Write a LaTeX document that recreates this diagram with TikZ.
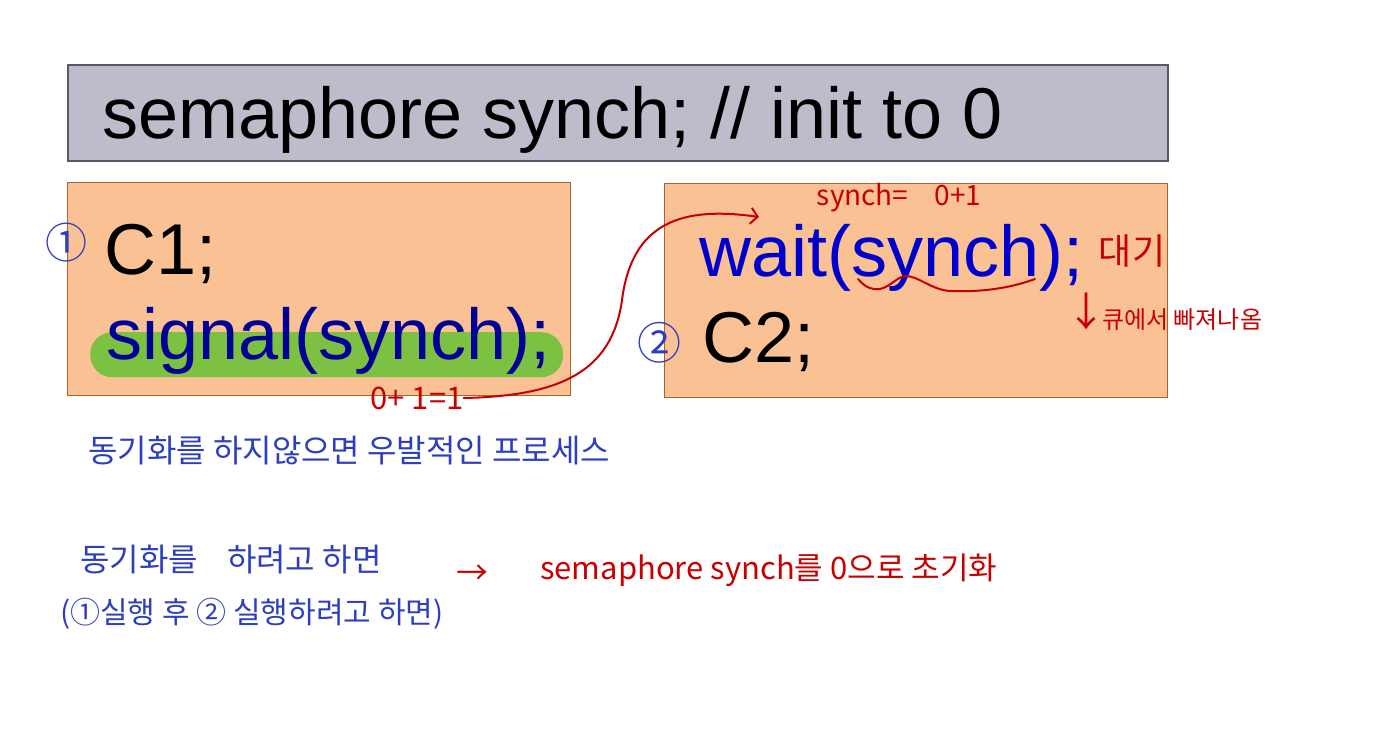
\documentclass[tikz,border=0pt]{standalone}
\usepackage{fontspec}
\setmainfont{Liberation Sans}
\newfontfamily\kr{Noto Sans CJK KR}
\usetikzlibrary{arrows.meta}
\definecolor{hdrfill}{RGB}{190,187,202}
\definecolor{hdrline}{RGB}{90,88,102}
\definecolor{boxfill}{RGB}{249,193,148}
\definecolor{boxline}{RGB}{165,100,44}
\definecolor{hlgreen}{RGB}{124,193,66}
\definecolor{sigblue}{RGB}{0,0,150}
\definecolor{waitblue}{RGB}{0,0,204}
\definecolor{penblue}{RGB}{45,62,190}
\definecolor{penred}{RGB}{200,0,0}
\tikzset{
  hdrbox/.style={draw=hdrline, fill=hdrfill, line width=1.5pt, anchor=north west, inner sep=0pt},
  codebox/.style={draw=boxline, fill=boxfill, line width=1.2pt, anchor=north west, inner sep=0pt},
  hlbar/.style={fill=hlgreen, rounded corners=22pt, anchor=north west, inner sep=0pt},
  code/.style={anchor=base west, inner sep=0pt, font=\fontsize{72}{80}\selectfont},
  bluepen/.style={text=penblue, inner sep=0pt, font=\kr\fontsize{32}{36}\selectfont},
  redpen/.style={text=penred, inner sep=0pt, font=\kr\fontsize{28}{30}\selectfont},
  redline/.style={draw=penred, line width=2pt, line cap=round, line join=round},
}
\begin{document}
\begin{tikzpicture}[x=1pt,y=-1pt]
\useasboundingbox (0,0) rectangle (1384,739);
\fill[white] (0,0) rectangle (1384,739);

% boxes
\node[hdrbox, minimum width=1100pt, minimum height=96pt] (hdr) at (67,64) {};
\node[codebox, minimum width=503pt, minimum height=213pt] (left) at (67,182) {};
\node[codebox, minimum width=503pt, minimum height=214pt] (right) at (664,183) {};
\node[hlbar, minimum width=473pt, minimum height=45pt] (hl) at (90,332) {};

% code text
\node[code] (decl) at (102,138) {semaphore synch; // init to 0};
\node[code] (c1) at (104,274) {C1;};
\node[code, text=sigblue] (sig) at (106,359) {signal(synch);};
\node[code, text=waitblue] (wait) at (699,276) {wait(synch);};
\node[code] (c2) at (702,362) {C2;};

% circled step numbers
\node[text=penblue, inner sep=0pt, font=\kr\fontsize{42}{44}\selectfont] (n1) at (66,243) {①};
\node[text=penblue, inner sep=0pt, font=\kr\fontsize{44}{46}\selectfont] (n2) at (659,343) {②};

% red annotations
\node[redpen, font=\kr\fontsize{31}{34}\selectfont] (eq1) at (417,398) {0+ 1=1};
\node[redpen] (eq2) at (899,198) {synch=\hspace{26pt}0+1};
\node[redpen, font=\kr\fontsize{36}{40}\selectfont] (wt) at (1132,251) {대기};
\node[redpen, font=\kr\fontsize{40}{44}\selectfont] (down) at (1086,311) {↓};
\node[redpen, font=\kr\fontsize{24}{28}\selectfont, anchor=west] (deq) at (1102,320) {큐에서 빠져나옴};

% red curve from signal to wait
\coordinate (tip) at (759,217);
\draw[redline, -{Straight Barb[length=7pt,width=16pt,line width=2pt]}]
  (eq1.east) .. controls (560,396) and (612,372) .. (622,300)
  .. controls (632,222) and (682,206) .. (tip);

% squiggle under synch
\draw[redline] (858,279) .. controls (866,288) and (872,290) .. (880,289)
  .. controls (890,287) and (898,276) .. (906,276)
  .. controls (918,276) and (932,290) .. (950,291)
  .. controls (975,292) and (1005,290) .. (1035,279);

% blue handwritten notes
\node[bluepen, anchor=west] (note1) at (88,451) {동기화를 하지않으면 우발적인 프로세스};
\node[bluepen, anchor=west] (note2) at (80,560) {동기화를 \hspace{22pt}하려고 하면};
\node[bluepen, font=\kr\fontsize{30}{34}\selectfont, anchor=west] (note3) at (60,614) {(①실행 후 ② 실행하려고 하면)};

% red conclusion
\node[redpen, font=\kr\fontsize{32}{36}\selectfont] (arr) at (472,575) {→};
\node[redpen, font=\kr\fontsize{31}{34}\selectfont, anchor=west] (concl) at (540,570) {semaphore synch를 0으로 초기화};
\end{tikzpicture}
\end{document}
